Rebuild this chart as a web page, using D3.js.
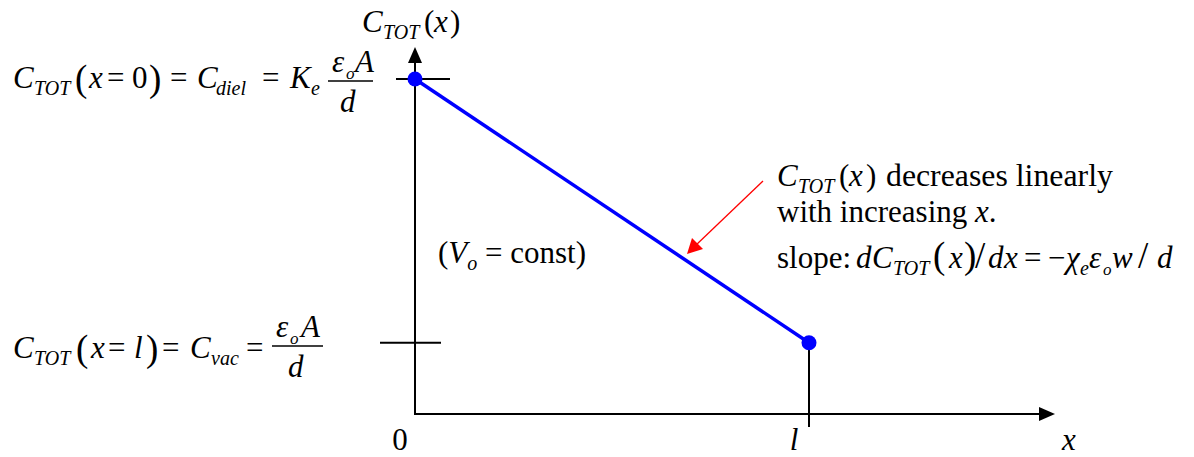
<!DOCTYPE html>
<html>
<head>
<meta charset="utf-8">
<script src="https://cdn.jsdelivr.net/npm/d3@7"></script>
<style>
  html, body { margin: 0; padding: 0; background: #ffffff; }
  svg { display: block; }
</style>
</head>
<body>
<svg id="chart" width="1194" height="457"></svg>
<script>
// Total capacitance vs. insertion depth x of the dielectric slab (schematic)
const xPoints = [0, 1];            // x = 0 and x = l (in units of l)
const cValues = [4.7, 1.0];        // C_TOT in units of C_vac (C_diel = K_e * C_vac)
const xTickLabels = ["0", "l"];
const xTickItalic = [false, true];

const svg = d3.select("#chart");

const originX = 415, originY = 414;
const xScale = d3.scaleLinear().domain([0, 1]).range([originX, 809]);
const yScale = d3.scaleLinear().domain([0, 4.7]).range([originY, 79]);

const xAxisEnd = 1055, yAxisEnd = 47;
const FS = 31, SUB = 20, SMALL = 17, BIG = 37;
const FONT = "Liberation Serif";

// ---- axes with arrowheads ----
const axes = svg.append("g").attr("stroke", "#000").attr("stroke-width", 2);
axes.append("line").attr("x1", originX).attr("y1", originY).attr("x2", xAxisEnd - 10).attr("y2", originY);
axes.append("line").attr("x1", originX).attr("y1", originY + 1).attr("x2", originX).attr("y2", yAxisEnd + 10);
svg.append("path")
  .attr("d", `M${xAxisEnd},${originY} L${xAxisEnd - 16},${originY - 7} L${xAxisEnd - 16},${originY + 7} Z`)
  .attr("fill", "#000");
svg.append("path")
  .attr("d", `M${originX},${yAxisEnd} L${originX - 7},${yAxisEnd + 16} L${originX + 7},${yAxisEnd + 16} Z`)
  .attr("fill", "#000");

// ---- y ticks at C_diel and C_vac ----
const yTickSpans = [[-19, 35], [-35, 26]];
svg.append("g").selectAll("line")
  .data(cValues)
  .join("line")
  .attr("x1", (d, i) => originX + yTickSpans[i][0])
  .attr("x2", (d, i) => originX + yTickSpans[i][1])
  .attr("y1", d => yScale(d))
  .attr("y2", d => yScale(d))
  .attr("stroke", "#000").attr("stroke-width", 2);

// drop line from the x = l point through the axis
svg.append("line")
  .attr("x1", xScale(xPoints[1])).attr("x2", xScale(xPoints[1]))
  .attr("y1", yScale(cValues[1])).attr("y2", originY + 13)
  .attr("stroke", "#000").attr("stroke-width", 2);

// x tick labels
svg.append("g").selectAll("text")
  .data(xPoints)
  .join("text")
  .attr("x", d => xScale(d) - 15)
  .attr("y", 450)
  .attr("text-anchor", "middle")
  .style("font-family", FONT)
  .attr("font-size", FS)
  .attr("font-style", (d, i) => xTickItalic[i] ? "italic" : "normal")
  .text((d, i) => xTickLabels[i]);
svg.append("text")
  .attr("x", 1062).attr("y", 450)
  .style("font-family", FONT).attr("font-size", FS).attr("font-style", "italic")
  .text("x");

// ---- C_TOT(x) line and end points ----
const pts = xPoints.map((x, i) => [x, cValues[i]]);
svg.append("path")
  .datum(pts)
  .attr("d", d3.line().x(d => xScale(d[0])).y(d => yScale(d[1])))
  .attr("fill", "none")
  .attr("stroke", "#0000ff")
  .attr("stroke-width", 3.5);
svg.append("g").selectAll("circle")
  .data(pts)
  .join("circle")
  .attr("cx", d => xScale(d[0]))
  .attr("cy", d => yScale(d[1]))
  .attr("r", 7.5)
  .attr("fill", "#0000ff");

// ---- typeset math helpers ----
// each part: [text, x, options] ; options: i (italic), sub, size, dy
function runAbs(baseline, parts) {
  const g = svg.append("g");
  parts.forEach(([t, x, o = {}]) => {
    g.append("text")
      .attr("x", x)
      .attr("y", baseline + (o.sub ? 7 : 0) + (o.dy || 0))
      .style("font-family", FONT)
      .attr("font-size", o.size || (o.sub ? SUB : FS))
      .attr("font-style", o.i ? "italic" : "normal")
      .text(t);
  });
  return g;
}
function fraction(barX1, barX2, barY, numParts, denParts) {
  svg.append("line")
    .attr("x1", barX1).attr("x2", barX2)
    .attr("y1", barY).attr("y2", barY)
    .attr("stroke", "#000").attr("stroke-width", 1.5);
  runAbs(barY - 9, numParts);
  runAbs(barY + 31, denParts);
}
// flowing run of tspans
function runFlow(x, y, parts) {
  const t = svg.append("text").attr("x", x).attr("y", y)
    .style("font-family", FONT).attr("font-size", FS);
  let shifted = 0;
  parts.forEach(([s, o = {}]) => {
    const dy = (o.sub ? 7 : 0) - shifted;
    shifted = o.sub ? 7 : 0;
    t.append("tspan")
      .attr("dy", dy)
      .attr("font-size", o.size || (o.sub ? SUB : FS))
      .attr("font-style", o.i ? "italic" : "normal")
      .text(s);
  });
  return t;
}

// y-axis title
runAbs(32, [["C", 362, { i: true }], ["TOT", 383, { i: true, sub: true }],
  ["(", 424], ["x", 434, { i: true }], [")", 450]]);

// C_TOT(x = 0) = C_diel = K_e eps_o A / d
runAbs(88, [
  ["C", 13, { i: true }], ["TOT", 34, { i: true, sub: true }],
  ["(", 75, { size: BIG, dy: 3 }], ["x", 89, { i: true }], ["=", 107], ["0", 132], [")", 149, { size: BIG, dy: 3 }],
  ["=", 170],
  ["C", 197, { i: true }], ["diel", 216, { i: true, sub: true }],
  ["=", 262],
  ["K", 290, { i: true }], ["e", 311, { i: true, sub: true }]
]);
fraction(328, 373, 81,
  [["\u03B5", 332, { i: true }], ["o", 346, { i: true, sub: true, size: SMALL }], ["A", 355, { i: true }]],
  [["d", 340, { i: true }]]);

// C_TOT(x = l) = C_vac = eps_o A / d
runAbs(358, [
  ["C", 13, { i: true }], ["TOT", 34, { i: true, sub: true }],
  ["(", 76, { size: BIG, dy: 3 }], ["x", 91, { i: true }], ["=", 108], ["l", 134, { i: true }], [")", 146, { size: BIG, dy: 3 }],
  ["=", 162],
  ["C", 190, { i: true }], ["vac", 211, { i: true, sub: true }],
  ["=", 246]
]);
fraction(272, 323, 346,
  [["\u03B5", 276, { i: true }], ["o", 290, { i: true, sub: true, size: SMALL }], ["A", 301, { i: true }]],
  [["d", 288, { i: true }]]);

// (V_o = const)
runFlow(438, 263, [["(", {}], ["V", { i: true }], ["o", { i: true, sub: true }], [" = const)", {}]]);

// annotation block
runAbs(186, [
  ["C", 777, { i: true }], ["TOT", 798, { i: true, sub: true }],
  ["(", 839], ["x", 849, { i: true }], [")", 866],
  ["decreases linearly", 886, { size: 31.8 }]
]);
runFlow(777, 222, [["with increasing ", {}], ["x", { i: true }], [".", {}]]);
runAbs(268, [
  ["slope:", 777],
  ["d", 856, { i: true }], ["C", 872, { i: true }], ["TOT", 893, { i: true, sub: true }],
  ["(", 933, { size: BIG }], ["x", 949, { i: true }], [")", 964, { size: BIG }],
  ["/", 975, { size: BIG }],
  ["d", 988, { i: true }], ["x", 1004, { i: true }],
  ["=", 1024], ["\u2212", 1048],
  ["\u03C7", 1066, { i: true }], ["e", 1080, { i: true, sub: true }],
  ["\u03B5", 1089, { i: true }], ["o", 1103, { i: true, sub: true, size: SMALL }],
  ["w", 1112, { i: true }], ["/", 1138, { size: BIG }], ["d", 1157, { i: true }]
]);

// red pointer arrow onto the line
svg.append("line")
  .attr("x1", 763).attr("y1", 181).attr("x2", 695).attr("y2", 246)
  .attr("stroke", "#ff0000").attr("stroke-width", 1.3);
svg.append("path")
  .attr("d", "M687,254 L692,238 L703,249 Z")
  .attr("fill", "#ff0000");
</script>
</body>
</html>
